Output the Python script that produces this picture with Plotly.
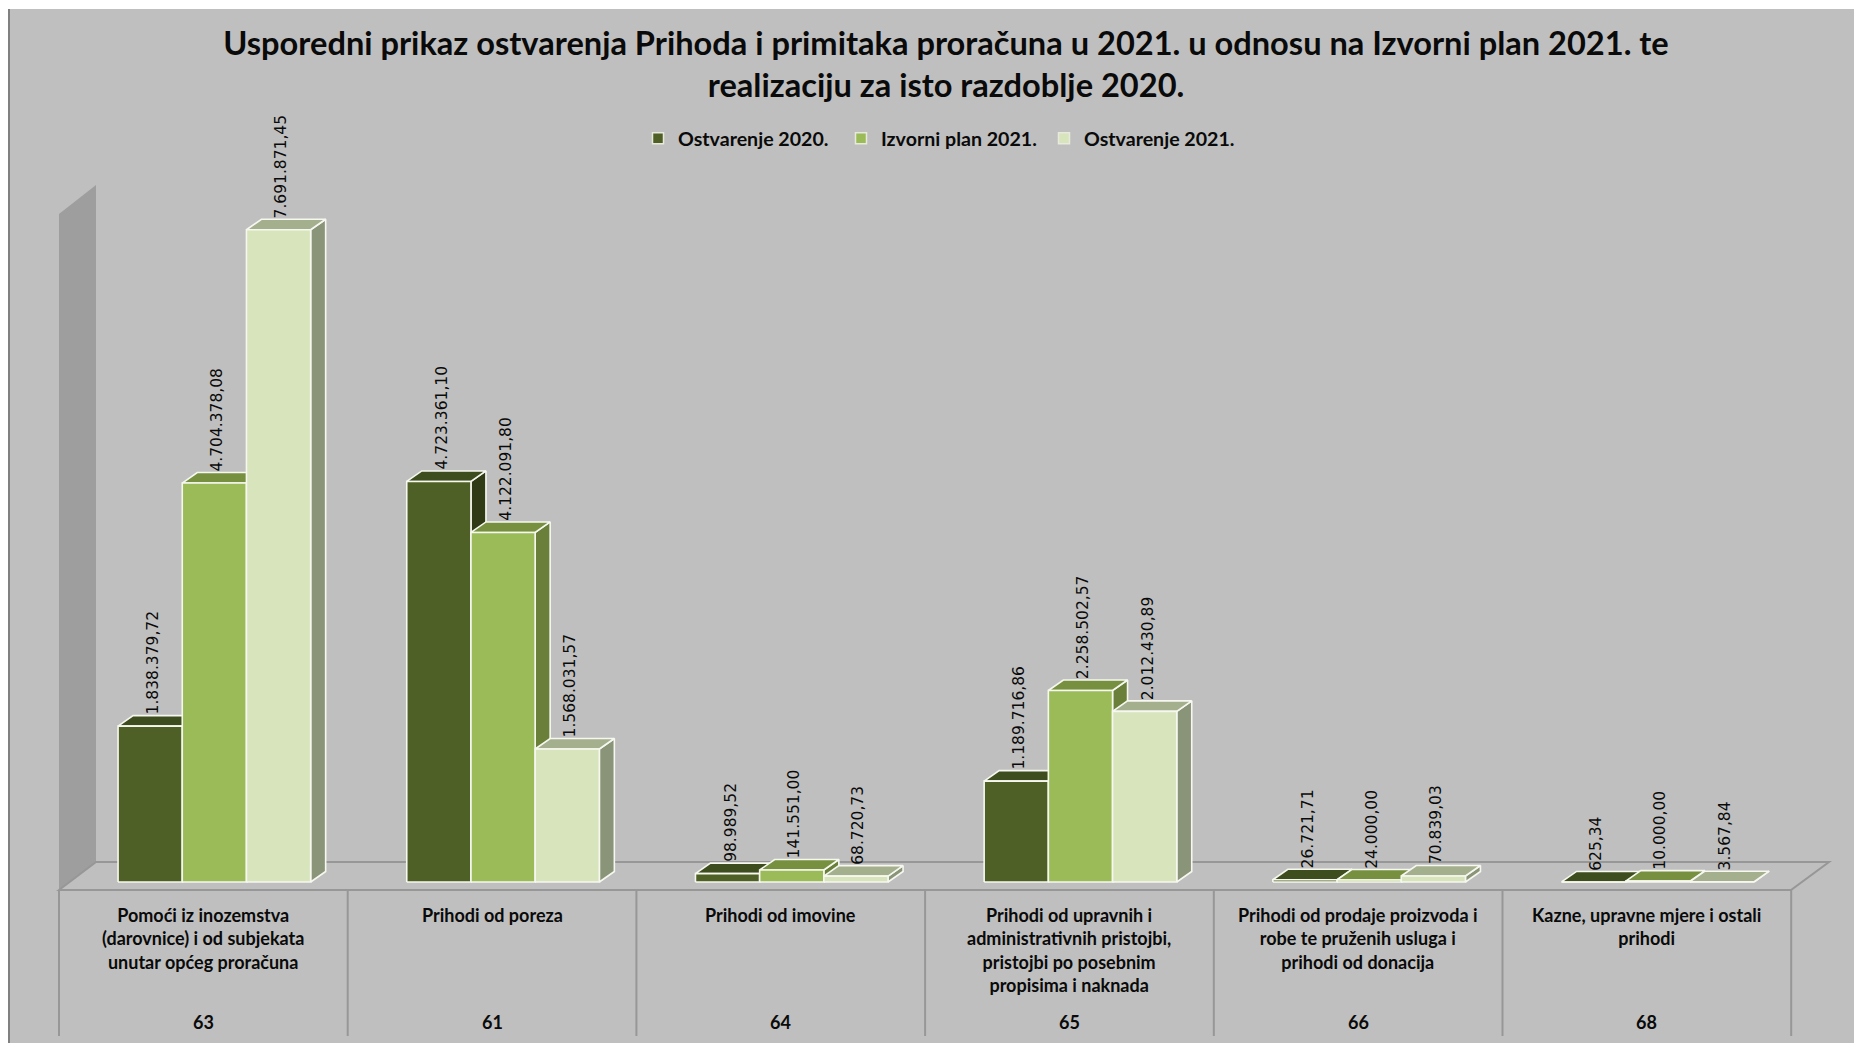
import plotly.graph_objects as go

title_text = "Usporedni prikaz ostvarenja Prihoda i primitaka proračuna u 2021. u odnosu na Izvorni plan 2021. te<br>realizaciju za isto razdoblje 2020."
codes = ["63", "61", "64", "65", "66", "68"]
categories = [
    "Pomoći iz inozemstva<br>(darovnice) i od subjekata<br>unutar općeg proračuna",
    "Prihodi od poreza",
    "Prihodi od imovine",
    "Prihodi od upravnih i<br>administrativnih pristojbi,<br>pristojbi po posebnim<br>propisima i naknada",
    "Prihodi od prodaje proizvoda i<br>robe te pruženih usluga i<br>prihodi od donacija",
    "Kazne, upravne mjere i ostali<br>prihodi",
]
ostvarenje_2020 = [1838379.72, 4723361.10, 98989.52, 1189716.86, 26721.71, 625.34]
plan_2021 = [4704378.08, 4122091.80, 141551.00, 2258502.57, 24000.00, 10000.00]
ostvarenje_2021 = [7691871.45, 1568031.57, 68720.73, 2012430.89, 70839.03, 3567.84]
series_names = ["Ostvarenje 2020.", "Izvorni plan 2021.", "Ostvarenje 2021."]

W, H = 1854, 1043
X0_PX, CAT_PX = 59.0, 288.7      # pixel of category boundary 0, pixels per category
Y0_PX, VAL_PX = 882.0, 84.8e-6   # pixel of value 0, pixels per unit of value
BAR_W = 64.2 / CAT_PX
GROUP_SHIFT = 11.0 / CAT_PX
DX = 15.0 / CAT_PX
DY = 10.5 / VAL_PX

def xv(px): return (px - X0_PX) / CAT_PX
def yv(py): return (Y0_PX - py) / VAL_PX

colors = [
    dict(front="#4F6026", top="#3E4D1E", side="#303A15"),
    dict(front="#9BBB59", top="#76903F", side="#6A7F3A"),
    dict(front="#D7E4BC", top="#A4AF8E", side="#8A9479"),
]
BG = "#BFBFBF"
WALL = "#9E9E9E"
EDGE = "#979797"
TEXT = "#0A0A0A"
LATO = "Lato, sans-serif"
OUTLINE = "#F6F8F0"

fig = go.Figure()

def poly_trace(xs, ys, color):
    return go.Scatter(x=xs, y=ys, mode="lines", fill="toself", fillcolor=color,
                      line=dict(color=OUTLINE, width=1.6), hoverinfo="skip", showlegend=False)

annotations = []
all_series = [ostvarenje_2020, plan_2021, ostvarenje_2021]
for s, values in enumerate(all_series):
    fx, fy, tx, ty, sx, sy = [], [], [], [], [], []
    for c, v in enumerate(values):
        left = c + 0.5 + GROUP_SHIFT + (s - 1.5) * BAR_W
        right = left + BAR_W
        fx += [left, right, right, left, left, None]
        fy += [0, 0, v, v, 0, None]
        tx += [left, right, right + DX, left + DX, left, None]
        ty += [v, v, v + DY, v + DY, v, None]
        sx += [right, right + DX, right + DX, right, right, None]
        sy += [0, DY, v + DY, v, 0, None]
        label = f"{v:,.2f}".replace(",", "#").replace(".", ",").replace("#", ".")
        annotations.append(dict(x=(left + right) / 2 + 2.7 / CAT_PX, y=v + DY, text=label, textangle=-90,
                                showarrow=False, xanchor="center", yanchor="bottom", borderpad=0,
                                font=dict(family="DejaVu Sans, sans-serif", size=15.5, color=TEXT)))
    fig.add_trace(poly_trace(sx, sy, colors[s]["side"]))
    fig.add_trace(poly_trace(tx, ty, colors[s]["top"]))
    fig.add_trace(poly_trace(fx, fy, colors[s]["front"]))

for s, name in enumerate(series_names):
    fig.add_trace(go.Scatter(x=[None], y=[None], mode="markers", name=name,
                             marker=dict(symbol="square", size=11, color=colors[s]["front"],
                                         line=dict(color="#E6E9DC", width=1.5))))

for c, (cat, code) in enumerate(zip(categories, codes)):
    annotations.append(dict(x=c + 0.5, y=yv(902), text=cat, showarrow=False, xanchor="center", yanchor="top",
                            align="center", font=dict(family=LATO, size=18, color=TEXT, weight=700)))
    annotations.append(dict(x=c + 0.5, y=yv(1022), text=code, showarrow=False, xanchor="center", yanchor="middle",
                            font=dict(family=LATO, size=18, color=TEXT, weight=700)))

shapes = [
    # chart frame
    dict(type="rect", xref="paper", yref="paper", x0=8 / W, x1=1.01, y0=-0.01, y1=1 - 9 / H,
         fillcolor=BG, line=dict(width=0), layer="below"),
    dict(type="line", xref="paper", yref="paper", x0=9 / W, x1=9 / W, y0=-0.01, y1=1 - 9 / H,
         line=dict(color="#808080", width=2), layer="below"),
    # left wall
    dict(type="path", xref="x", yref="y", layer="below", fillcolor=WALL, line=dict(width=0),
         path=f"M {xv(59)} {yv(214)} L {xv(96)} {yv(185)} L {xv(96)} {yv(862)} L {xv(59)} {yv(890)} Z"),
    # floor
    dict(type="path", xref="x", yref="y", layer="below", fillcolor=BG, line=dict(color=EDGE, width=2),
         path=f"M {xv(59)} {yv(890)} L {xv(96)} {yv(862)} L {xv(1829)} {yv(862)} L {xv(1791)} {yv(890)} Z"),
]
for c in range(len(categories) + 1):
    shapes.append(dict(type="line", xref="x", yref="y", layer="below", x0=c, x1=c, y0=yv(890), y1=yv(1036),
                       line=dict(color=EDGE, width=2)))

fig.update_layout(
    width=W, height=H, autosize=False,
    margin=dict(l=0, r=0, t=0, b=0, pad=0),
    paper_bgcolor="white", plot_bgcolor="rgba(0,0,0,0)",
    title=dict(text=title_text, x=946 / W, xanchor="center", y=1 - 54.5 / H, yanchor="middle",
               font=dict(family=LATO, size=32.6, color=TEXT, weight=700)),
    legend=dict(orientation="h", x=638 / W, xanchor="left", y=1 - 138.5 / H, yanchor="middle",
                entrywidth=158, entrywidthmode="pixels", bgcolor="rgba(0,0,0,0)",
                font=dict(family=LATO, size=19.6, color=TEXT, weight=700)),
    xaxis=dict(range=[xv(0), xv(W)], visible=False, domain=[0, 1], fixedrange=True),
    yaxis=dict(range=[yv(H), yv(0)], visible=False, domain=[0, 1], fixedrange=True),
    shapes=shapes, annotations=annotations, hovermode=False,
)

fig.write_html("out.html", config=dict(displayModeBar=False),
               post_script="document.body.style.margin='0';document.body.style.overflow='hidden';")
